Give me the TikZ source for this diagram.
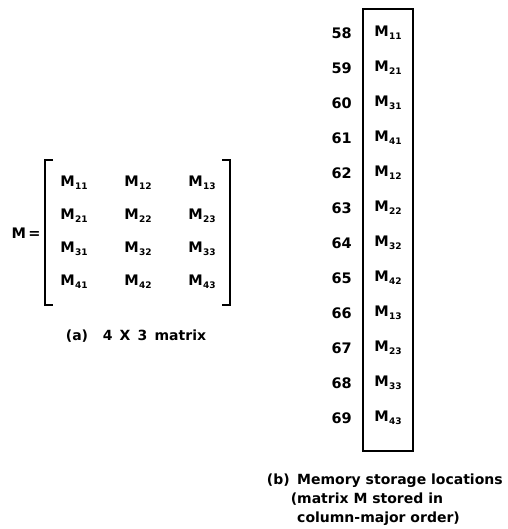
\documentclass[tikz,border=0pt]{standalone}
\usepackage{fontspec}
\setmainfont{DejaVu Sans}
\newcommand{\msub}[1]{M\kern0.5pt\raisebox{-0.35ex}{\fontsize{9}{9}\selectfont #1}}
\begin{document}
\begin{tikzpicture}[x=1pt,y=-1pt,
  txt/.style={font=\bfseries\fontsize{14.5}{16}\selectfont, inner sep=0pt},
  captxt/.style={font=\bfseries\fontsize{14}{20}\selectfont, inner sep=0pt, anchor=base west},
  brk/.style={line width=1.6pt}]
\useasboundingbox (0,0) rectangle (507,529);
% matrix
\node[txt] (eq) at (26,233) {M\,=};
\foreach \r in {1,...,4}{
  \foreach \c in {1,2,3}{
    \node[txt] (m\r\c) at ({74+64*(\c-1)},{183+33*(\r-1)}) {\msub{\r\c}};
  }
}
\coordinate (lt) at (45,160);
\coordinate (lb) at (45,305);
\coordinate (rt) at (230,160);
\coordinate (rb) at (230,305);
\draw[brk] ([xshift=8pt]lt) -- (lt) -- (lb) -- ([xshift=8pt]lb);
\draw[brk] ([xshift=-8pt]rt) -- (rt) -- (rb) -- ([xshift=-8pt]rb);
\node[captxt, anchor=center] (capa) at (136,336) {(a)\ \ \ 4\ \,X\ \,3\ \,matrix};
% memory
\node[draw, line width=1.6pt, minimum width=50pt, minimum height=442pt, inner sep=0pt, anchor=north west] (box) at (362,8) {};
\foreach \n/\e [count=\k from 0] in {58/11,59/21,60/31,61/41,62/12,63/22,64/32,65/42,66/13,67/23,68/33,69/43}{
  \node[txt, anchor=east] (a\n) at (352,{33+35*\k}) {\n};
  \node[txt] (e\n) at (388,{33+35*\k}) {\msub{\e}};
}
\node[captxt, anchor=base east] (capb) at (290,484) {(b)};
\node[captxt] (capb1) at (297,484) {Memory storage locations};
\node[captxt] (capb2) at (297,503) {\llap{(}matrix M stored in};
\node[captxt] (capb3) at (297,522) {column-major order)};
\end{tikzpicture}
\end{document}
